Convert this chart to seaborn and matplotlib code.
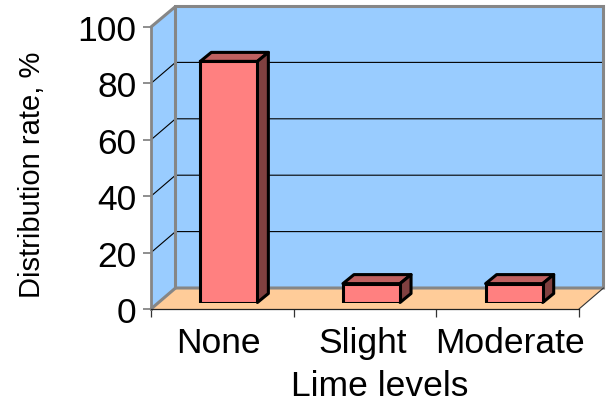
import matplotlib
matplotlib.use("Agg")
import matplotlib.pyplot as plt
import pandas as pd
import seaborn as sns

# Values
lime_levels = ["None", "Slight", "Moderate"]
distribution_rate = [85.5, 6.7, 6.7]
y_ticks = [0, 20, 40, 60, 80, 100]

df = pd.DataFrame({"Lime levels": lime_levels, "Distribution rate": distribution_rate})

sns.set_style("white")
plt.rcParams["font.family"] = ["Liberation Sans", "DejaVu Sans"]
plt.rcParams["text.color"] = "black"
plt.rcParams["axes.labelcolor"] = "black"
plt.rcParams["xtick.labelcolor"] = "black"
plt.rcParams["ytick.labelcolor"] = "black"

W, H = 609, 402
# front plane of the fake 3D box, in pixels
left, right, bottom, top = 151, 579, 310, 28
depth_x, depth_y = 24.5, 21
px_per_unit = (bottom - top) / 100

fig = plt.figure(figsize=(W / 100, H / 100), dpi=100, facecolor="white")

# Background walls and floor, pixel coordinates
bg = fig.add_axes([0, 0, 1, 1])
bg.set_xlim(0, W)
bg.set_ylim(H, 0)
bg.axis("off")

wall = "#99CCFF"
floor = "#FFCC99"
edge = "#868686"
back_l, back_r = left + depth_x, right + depth_x
back_b, back_t = bottom - depth_y, top - depth_y + 0.5

bg.fill([back_l, back_r, back_r, back_l], [back_b, back_b, back_t, back_t], color=wall, lw=0)
bg.fill([left, back_l, back_l, left], [top, back_t, back_b, bottom], color=wall, lw=0)
bg.fill([left, back_l, back_r, right], [bottom, back_b, back_b, bottom], color=floor, lw=0)

for v in y_ticks[1:-1]:
    y = bottom - v * px_per_unit
    bg.plot([left, back_l, back_r], [y, y - depth_y, y - depth_y], color="black", lw=0.8)

bg.plot([left, back_l, back_r, back_r, back_l, back_l], [top, back_t, back_t, back_b, back_b, back_t],
        color=edge, lw=2.2, solid_joinstyle="miter")
bg.plot([left, back_l], [bottom, back_b], color=edge, lw=2.2)
bg.plot([right, back_r], [bottom, back_b], color="#333333", lw=0.8)

# Front axes carry the ticks and labels
ax = fig.add_axes([left / W, 1 - bottom / H, (right - left) / W, (bottom - top) / H])
ax.patch.set_alpha(0)
ax.set_xlim(-0.5, 2.5)
ax.set_ylim(0, 100)
ax.set_yticks(y_ticks)
ax.set_xticks([-0.5, 0.5, 1.5, 2.5])
ax.set_xticklabels([])
# labels are not quite centred under their slots in the original
ax.set_xticks([-0.03, 0.983, 2.013], lime_levels, minor=True)
ax.tick_params(axis="x", which="major", length=5.5, width=0.9, color="#333333", bottom=True)
ax.tick_params(axis="x", which="minor", length=0, labelsize=25.5, pad=12, bottom=True)
ax.tick_params(axis="y", length=5.5, width=1.3, color=edge, labelsize=25.5, pad=5, left=True)
for s in ["top", "right"]:
    ax.spines[s].set_visible(False)
ax.spines["left"].set_color(edge)
ax.spines["left"].set_linewidth(2)
ax.spines["bottom"].set_color("#222222")
ax.spines["bottom"].set_linewidth(0.9)
ax.set_xlabel("Lime levels", fontsize=25.5)
ax.set_ylabel("Distribution rate, %", fontsize=21)
ax.xaxis.set_label_coords(0.535, -0.212)
ax.yaxis.set_label_coords(-0.245, 0.479)

# Bars sit a little inside the box, so they get their own shifted axes
shift_x, shift_y = 6.5, 6.5
bars = fig.add_axes([(left + shift_x) / W, 1 - (bottom - shift_y) / H, (right - left) / W, (bottom - top) / H])
bars.patch.set_alpha(0)
sns.barplot(data=df, x="Lime levels", y="Distribution rate", color="#FF8080", saturation=1,
            width=0.4, edgecolor="black", linewidth=2.2, ax=bars, zorder=3)
bars.set_xlim(-0.5, 2.5)
bars.set_ylim(0, 100)
bars.axis("off")

# Top and side faces of each bar
dx = 11 / ((right - left) / 3)
dy = 9 / px_per_unit
for p in bars.patches:
    x0, x1 = p.get_x(), p.get_x() + p.get_width()
    h = p.get_height()
    bars.fill([x0, x0 + dx, x1 + dx, x1], [h, h + dy, h + dy, h], facecolor="#BF6060",
              edgecolor="black", lw=2.2, clip_on=False, zorder=2, joinstyle="round")
    bars.fill([x1, x1 + dx, x1 + dx, x1], [0, dy, h + dy, h], facecolor="#804040",
              edgecolor="black", lw=2.2, clip_on=False, zorder=2, joinstyle="round")

fig.savefig("out.png", dpi=100)
